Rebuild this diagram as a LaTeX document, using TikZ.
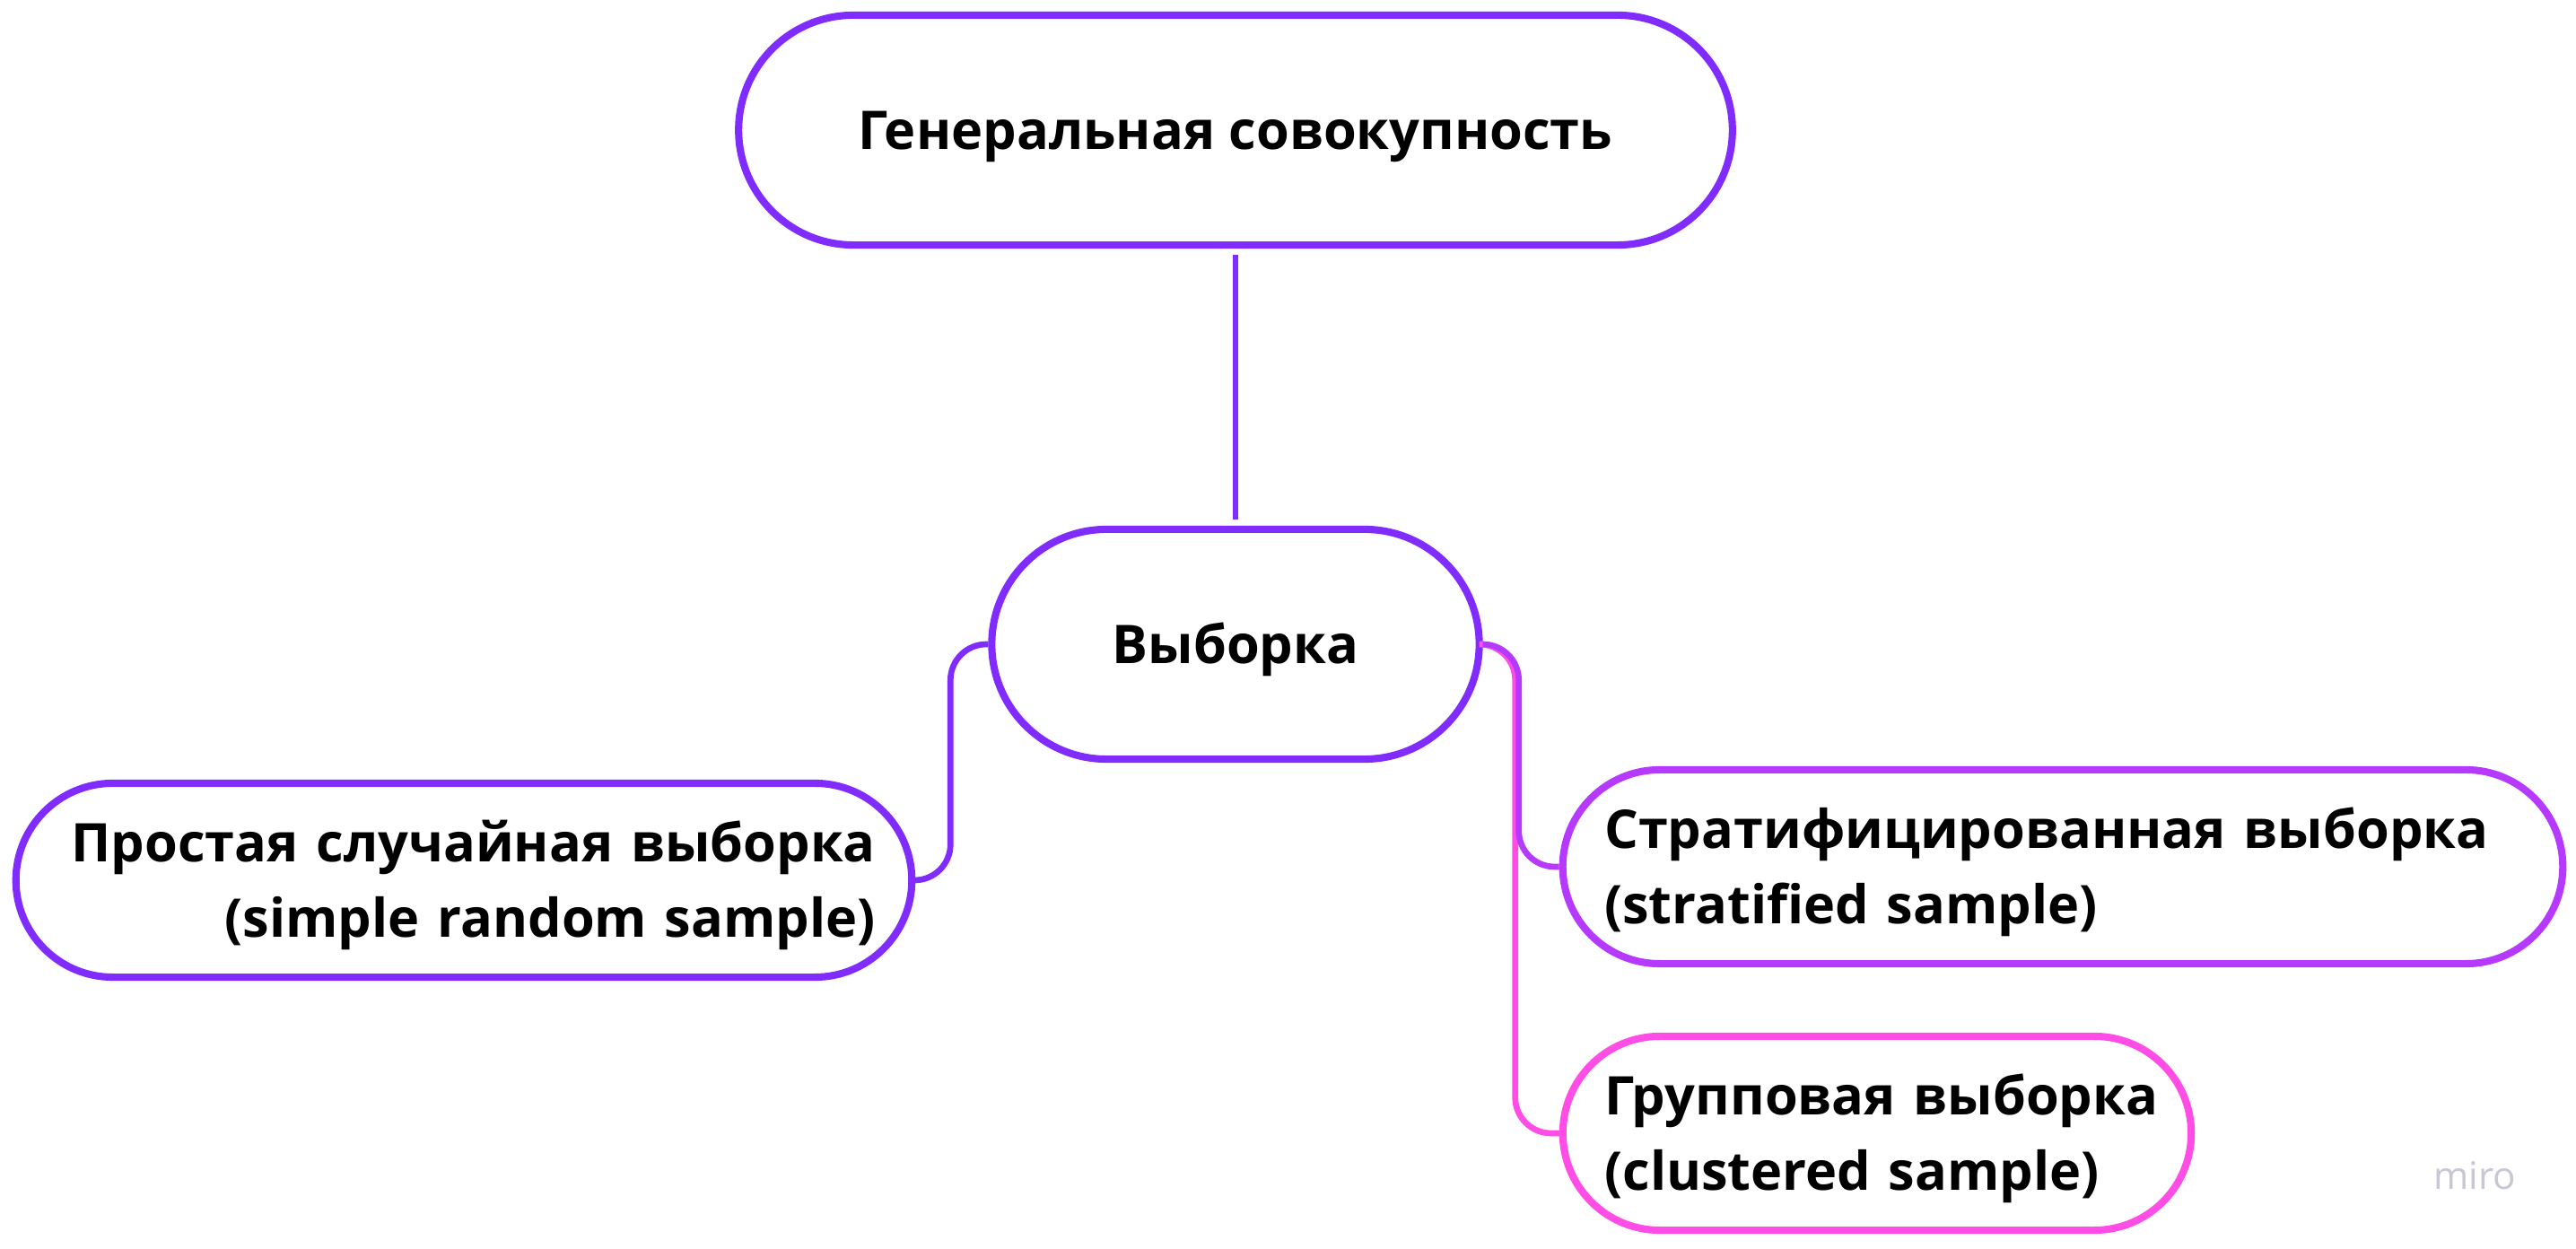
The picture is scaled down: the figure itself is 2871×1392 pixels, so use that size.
\documentclass[tikz,border=0pt]{standalone}
\usepackage{fontspec}
\setmainfont{Open Sans}
\definecolor{violetmain}{RGB}{128,44,255}
\definecolor{violetstrat}{RGB}{181,57,255}
\definecolor{pinkgroup}{RGB}{255,77,230}
\definecolor{mirogray}{RGB}{200,200,212}
\begin{document}
\begin{tikzpicture}[x=0.01cm,y=-0.01cm]

                \tikzset{pill/.style = {shape=rectangle,draw,line width=2.3pt,fill=white,inner sep=0pt,
                                        font=\bfseries\fontsize{16.9}{23.8}\selectfont,text height=12.1pt}}
                \tikzset{big/.style = {pill,minimum height=2.56cm,rounded corners=1.28cm,text depth=0pt}}
                \tikzset{small/.style = {pill,minimum height=2.16cm,rounded corners=1.08cm,text depth=23.8pt}}
                \tikzset{edge/.style = {line width=1.9pt,rounded corners=0.4cm}}
                \fill[white] (0,0) rectangle (2871,1392);

                \node[big,draw=violetmain,minimum width=11.07cm] (gen) at (1377,145) {Генеральная совокупность};
                \node[big,draw=violetmain,minimum width=5.43cm] (vyb) at (1377,718) {Выборка};
                \node[small,draw=violetmain,minimum width=9.98cm,text width=9.17cm,align=right] (simple) at (517,981)
                    {Простая случайная выборка\\(simple random sample)};
                \node[small,draw=violetstrat,minimum width=11.14cm,text width=10.21cm,align=left] (strat) at (2299,966)
                    {Стратифицированная~выборка\\(stratified sample)};
                \node[small,draw=pinkgroup,minimum width=7.0cm,text width=6.07cm,align=left] (group) at (2092,1263)
                    {Групповая~выборка\\(clustered~sample)};
                \node[text=mirogray,font=\fontsize{12}{14}\selectfont] (miro) at (2758,1310) {miro};

                \draw[edge,draw=violetmain,shorten <=0.07cm,shorten >=0.07cm] (gen) to (vyb);
                \draw[edge,draw=violetmain] (vyb.west) -- ++(-42,0) |- (simple.east);
                \draw[edge,draw=pinkgroup] (vyb.east) -- ++(36,0) |- (group.west);
                \draw[edge,draw=violetstrat] (vyb.east) -- ++(40,0) |- (strat.west);

            \end{tikzpicture}
\end{document}
